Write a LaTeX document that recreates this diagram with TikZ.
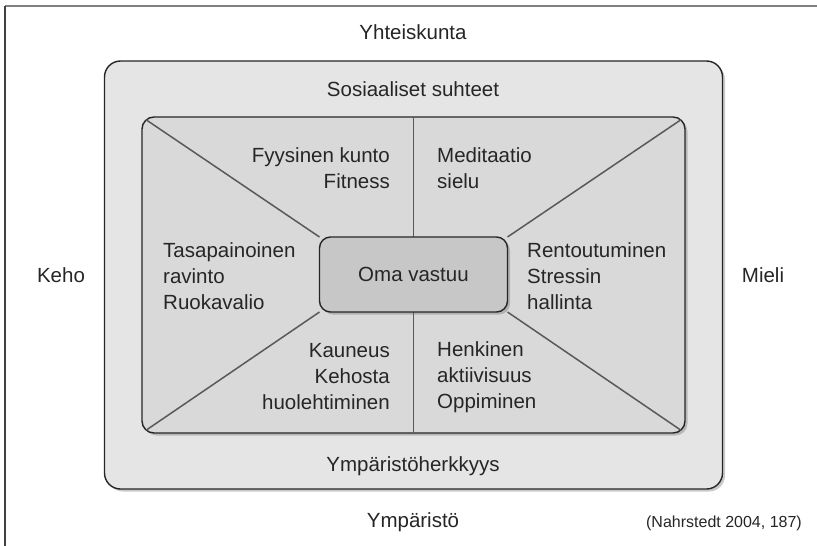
\documentclass[tikz,border=0pt]{standalone}
\usepackage{fontspec}
\setmainfont{Liberation Sans}
\usetikzlibrary{shadows}
\pgfdeclarelayer{bg}
\pgfdeclarelayer{mid}
\pgfsetlayers{bg,mid,main}
\begin{document}
\begin{tikzpicture}[x=1pt,y=-1pt,
  lbl/.style={font=\fontsize{20.5}{26}\selectfont, text=black!85, inner sep=0pt},
  box/.style={draw=black!85, line width=1.4pt, inner sep=0pt, outer sep=0pt,
    drop shadow={shadow xshift=2.5pt, shadow yshift=-2.5pt, opacity=0.35, fill=black!60}},
  sep/.style={draw=black!65, line width=1.5pt},
  frame/.style={line width=1.5pt}]
\useasboundingbox (0,0) rectangle (817,546);
\begin{pgfonlayer}{bg}
\fill[white] (0,0) rectangle (817,546);
\draw[frame, black!50] (5,6) -- (817,6);
\draw[frame, black!75] (5,6) -- (5,546);
\node[box, fill=black!10, rounded corners=16pt, minimum width=618pt, minimum height=428pt] (outer) at (413.5,275) {};
\node[box, fill=black!15, rounded corners=12pt, minimum width=543pt, minimum height=316pt] (inner) at (413.5,275) {};
\end{pgfonlayer}
\node[box, fill=black!22, rounded corners=11pt, minimum width=188pt, minimum height=75pt,
  font=\fontsize{20.5}{26}\selectfont, text=black!85] (center) at (413.5,274.5) {Oma vastuu};
\begin{pgfonlayer}{mid}
\draw[sep, shorten <=5pt] (inner.north west) -- (center.north west);
\draw[sep, shorten <=5pt] (inner.north east) -- (center.north east);
\draw[sep, shorten <=5pt] (inner.south west) -- (center.south west);
\draw[sep, shorten <=5pt] (inner.south east) -- (center.south east);
\draw[sep] (inner.north) -- (center.north);
\draw[sep] (center.south) -- (inner.south);
\end{pgfonlayer}
\node[lbl] (yht) at (413,32) {Yhteiskunta};
\node[lbl] (sos) at (413,89) {Sosiaaliset suhteet};
\node[lbl] (keho) at (61,275) {Keho};
\node[lbl] (mieli) at (763,275) {Mieli};
\node[lbl] (ymph) at (413,466) {Ympäristöherkkyys};
\node[lbl] (ymp) at (413,522) {Ympäristö};
\node[lbl, font=\fontsize{16}{19}\selectfont, anchor=east] (src) at (802,523) {(Nahrstedt 2004, 187)};
\node[lbl, align=right, anchor=east] (fyy) at (390,168) {Fyysinen kunto\\Fitness};
\node[lbl, align=left, anchor=west] (med) at (437,168) {Meditaatio\\sielu};
\node[lbl, align=left, anchor=west] (tas) at (163,276) {Tasapainoinen\\ravinto\\Ruokavalio};
\node[lbl, align=left, anchor=west] (ren) at (527,276) {Rentoutuminen\\Stressin\\hallinta};
\node[lbl, align=right, anchor=east] (kau) at (390,377) {Kauneus\\Kehosta\\huolehtiminen};
\node[lbl, align=left, anchor=west] (hen) at (437,377) {Henkinen\\aktiivisuus\\Oppiminen};
\end{tikzpicture}
\end{document}
